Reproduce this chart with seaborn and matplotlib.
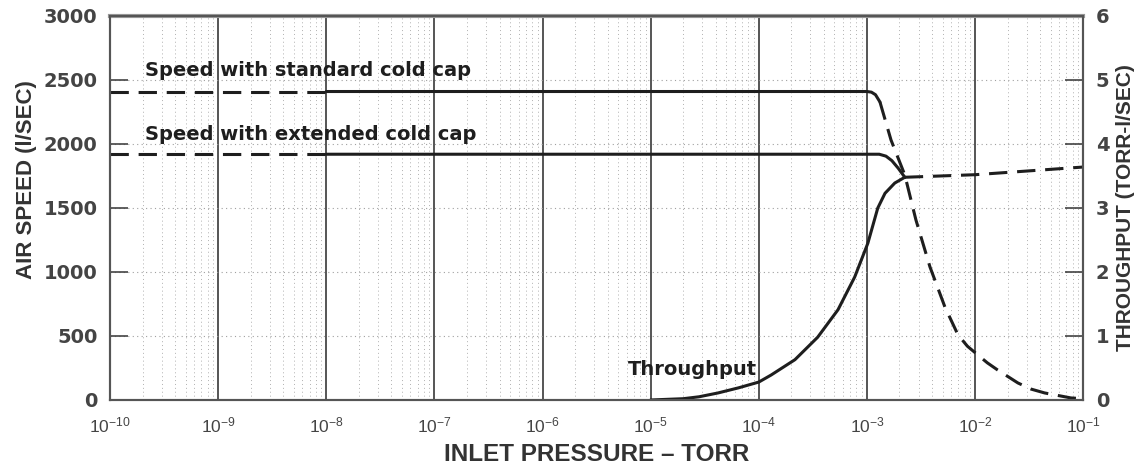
import numpy as np
import pandas as pd
import matplotlib
matplotlib.use("Agg")
import matplotlib.pyplot as plt
import seaborn as sns
from matplotlib.ticker import FixedLocator, NullFormatter, LogFormatterSciNotation

# speed with standard cold cap (l/sec)
std_flat_p = [1e-10, 1e-8]
std_flat_v = [2410, 2410]
std_solid_p = [1e-8, 1e-4, 1e-3, 1.1e-3, 1.2e-3, 1.32e-3]
std_solid_v = [2410, 2410, 2410, 2405, 2385, 2328]
std_drop_p = [1.32e-3, 1.67e-3, 2.24e-3, 2.84e-3, 3.83e-3, 5.26e-3, 6.94e-3,
              8.5e-3, 1e-2, 1.3e-2, 1.62e-2, 2.49e-2, 3.3e-2, 4.4e-2, 7.7e-2, 1e-1]
std_drop_v = [2328, 2031, 1758, 1406, 1039, 727, 510,
              420, 370, 290, 234, 133, 85, 55, 16, 10]

# speed with extended cold cap (l/sec)
ext_flat_p = [1e-10, 1e-8]
ext_flat_v = [1920, 1920]
ext_solid_p = [1e-8, 1e-4, 1.3e-3, 1.5e-3, 1.7e-3, 1.95e-3, 2.24e-3]
ext_solid_v = [1920, 1920, 1920, 1905, 1870, 1810, 1740]

# throughput (torr-l/sec)
thr_p = [1e-5, 2e-5, 2.8e-5, 4.2e-5, 6.5e-5, 1e-4, 1.3e-4, 2.16e-4, 3.5e-4,
         5.4e-4, 7.7e-4, 1.02e-3, 1.26e-3, 1.47e-3, 1.81e-3, 2.24e-3]
thr_v = [0, 0.02, 0.05, 0.11, 0.19, 0.28, 0.39, 0.63, 0.98,
         1.41, 1.92, 2.45, 3.0, 3.23, 3.39, 3.48]
thr_ext_p = [2.24e-3, 1e-2, 1e-1]
thr_ext_v = [3.48, 3.52, 3.64]

pressure_ticks = [1e-10, 1e-9, 1e-8, 1e-7, 1e-6, 1e-5, 1e-4, 1e-3, 1e-2, 1e-1]
speed_ticks = [0, 500, 1000, 1500, 2000, 2500, 3000]
thr_ticks = [0, 1, 2, 3, 4, 5, 6]

sns.set_style("white")
plt.rcParams['font.family'] = ['Liberation Sans', 'DejaVu Sans']

ink = '#1e1e1e'
fig = plt.figure(figsize=(11.39, 4.76), dpi=100)
ax = fig.add_axes([0.0966, 0.1597, 0.8544, 0.8067])
ax2 = ax.twinx()


def seg(axis, p, v, dashed=False):
    df = pd.DataFrame({'p': p, 'v': v})
    sns.lineplot(data=df, x='p', y='v', ax=axis, color=ink, lw=2.2,
                 linestyle=(0, (6, 3.2)) if dashed else '-', sort=False,
                 estimator=None)


ax.set_xscale('log')
seg(ax, std_flat_p, std_flat_v, True)
seg(ax, std_solid_p, std_solid_v)
seg(ax, std_drop_p, std_drop_v, True)
seg(ax, ext_flat_p, ext_flat_v, True)
seg(ax, ext_solid_p, ext_solid_v)
seg(ax2, thr_p, thr_v)
seg(ax2, thr_ext_p, thr_ext_v, True)

ax.set_xlim(pressure_ticks[0], pressure_ticks[-1])
ax.set_ylim(0, 3000)
ax2.set_ylim(0, 6)
ax.yaxis.set_major_locator(FixedLocator(speed_ticks))
ax2.yaxis.set_major_locator(FixedLocator(thr_ticks))
ax.xaxis.set_major_locator(FixedLocator(pressure_ticks))
ax.xaxis.set_major_formatter(LogFormatterSciNotation())
minor = [m * d for d in pressure_ticks[:-1] for m in range(2, 10)]
ax.xaxis.set_minor_locator(FixedLocator(minor))
ax.xaxis.set_minor_formatter(NullFormatter())

# grid
for d in pressure_ticks[1:-1]:
    ax.axvline(d, color='#555555', lw=1.4, zorder=0)
ax.grid(True, which='minor', axis='x', color='#b0b0b0', lw=0.7, ls=(0, (1, 3)))
ax.grid(True, which='major', axis='y', color='#a0a0a0', lw=0.8, ls=(0, (1, 3)))

for a in (ax, ax2):
    for s in a.spines.values():
        s.set_color('#555555')
        s.set_linewidth(1.5)
    a.tick_params(direction='in', colors='#444444', width=1.2)
ax.spines['top'].set_color('#999999')
ax.spines['top'].set_linewidth(3)
ax.tick_params(axis='y', length=13, pad=9)
ax2.tick_params(axis='y', length=13, pad=9)
ax.tick_params(axis='x', which='major', length=0, pad=11, labelsize=12.5)
ax.tick_params(axis='x', which='minor', length=10, width=1.2, color='#555555')
for t in ax.get_yticklabels() + ax2.get_yticklabels():
    t.set_family('DejaVu Sans')
    t.set_fontweight('bold')
    t.set_fontsize(14)

ax.set_xlabel('INLET PRESSURE – TORR', fontsize=17.5, fontweight='bold',
              color='#333333', labelpad=6)
ax.set_ylabel('AIR SPEED (l/SEC)', fontsize=16, fontweight='bold',
              color='#333333', labelpad=8)
ax2.set_ylabel('THROUGHPUT (TORR-l/SEC)', fontsize=15, fontweight='bold',
               color='#333333', labelpad=5)
ax.yaxis.set_label_coords(-0.075, 0.575)

lbl = dict(fontsize=14, fontweight='bold', color=ink, family='DejaVu Sans',
           va='baseline')
ax.text(2.1e-10, 2535, 'Speed with standard cold cap', **lbl)
ax.text(2.1e-10, 2030, 'Speed with extended cold cap', **lbl)
ax.text(6.2e-6, 195, 'Throughput', **lbl)

fig.savefig('out.png', dpi=100)
